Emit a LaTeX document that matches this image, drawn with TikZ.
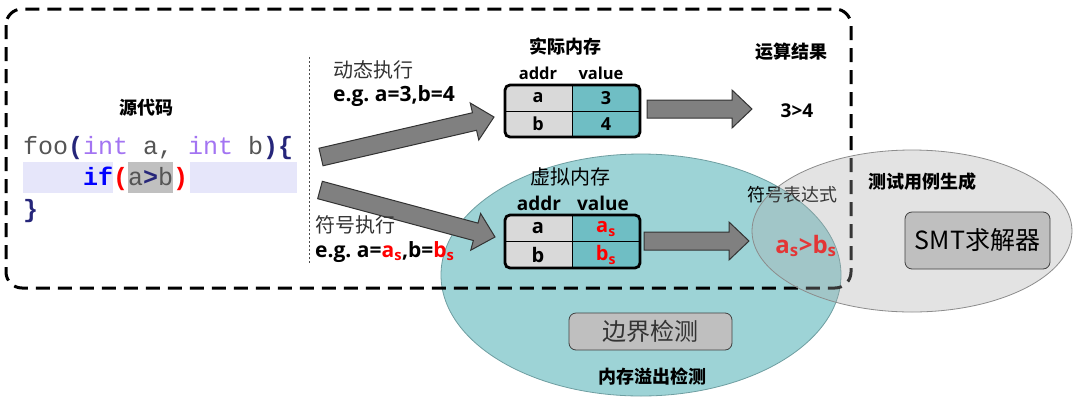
\documentclass[tikz,border=0pt]{standalone}
\usepackage{fontspec}
\setmainfont{Open Sans}
\setmonofont{Liberation Mono}
\newfontfamily\cjk{Noto Sans CJK SC}
\usetikzlibrary{calc}
\frenchspacing
\definecolor{tealfill}{HTML}{9DD3D6}
\definecolor{tealedge}{HTML}{6E9EA1}
\definecolor{cellteal}{HTML}{6FBEC4}
\definecolor{cellgray}{HTML}{D9D9D9}
\definecolor{boxgray}{HTML}{BFBFBF}
\definecolor{arrgray}{HTML}{808080}
\definecolor{codegray}{HTML}{555555}
\definecolor{navy}{HTML}{26267A}
\definecolor{purp}{HTML}{A374F2}
\definecolor{lav}{HTML}{E6E6FA}
\definecolor{hlgray}{HTML}{C0C0C0}
\definecolor{txtdark}{HTML}{333333}
\newcommand\blockarr[2]{%
  \coordinate (hb) at ($(#2)!20pt!(#1)$);
  \draw[blockarrow] ($(#1)!9pt!90:(#2)$) -- ($(hb)!9pt!90:(#2)$) -- ($(hb)!19pt!90:(#2)$) -- (#2)
     -- ($(hb)!19pt!-90:(#2)$) -- ($(hb)!9pt!-90:(#2)$) -- ($(#1)!9pt!-90:(#2)$) -- cycle;}
\newcommand\fsz[1]{\fontsize{#1}{#1}\selectfont}
\begin{document}
\begin{tikzpicture}[x=1pt,y=-1pt,
  blockarrow/.style={fill=arrgray,draw=black!80,line width=1pt,line join=miter},
  cjkb/.style={font=\cjk\bfseries\fsz{18},text=black,inner sep=0pt},
  cjkr/.style={font=\cjk\fsz{20},text=txtdark,inner sep=0pt},
  latb/.style={font=\bfseries\fsz{21},text=black,inner sep=0pt},
  hdr/.style={font=\bfseries\fsz{16.5},text=black,inner sep=0pt},
  cell/.style={font=\bfseries\fsz{18},text=black,inner sep=0pt},
  code/.style={font=\ttfamily\fsz{25},inner sep=0pt,anchor=base west},
  graybox/.style={draw=black!75,fill=boxgray,rounded corners=7pt,line width=0.8pt,inner sep=0pt}
]
\useasboundingbox (0,0) rectangle (1080,408);
\fill[white] (0,0) rectangle (1080,408);

% ---- source code ----
\fill[lav] (23,162) rectangle (113,193);
\fill[lav] (190,162) rectangle (297,193);
\fill[hlgray] (128,162) rectangle (173,193);
\node[cjkb] (src) at (146,108) {源代码};
\node[code] (l1) at (23,154) {{\color{codegray}foo}{\color{navy}\bfseries(}{\color{purp}int}{\color{codegray}\ a,\ }{\color{purp}int}{\color{codegray}\ b}{\color{navy}\bfseries)\{}};
\node[code] (l2) at (83,185) {{\color{blue}\bfseries if}{\color{red}\bfseries(}{\color{codegray}a}{\color{navy}\bfseries>}{\color{codegray}b}{\color{red}\bfseries)}};
\node[code] (l3) at (23,217) {{\color{navy}\bfseries\}}};

% ---- teal ellipse (memory overflow detection) ----
\draw[fill=tealfill,draw=tealedge,line width=0.8pt] (641,275) ellipse [x radius=200pt, y radius=121pt];

% ---- dashed frame ----
\draw[line width=3pt,dash pattern=on 14pt off 8pt,rounded corners=16pt] (6,9) rectangle (851,288);

% ---- dotted separator ----
\coordinate (dtop) at (309,57);
\coordinate (dbot) at (309,263);
\draw[black!70,line width=1pt,dash pattern=on 2pt off 2pt] (dtop) -- (dbot);

% ---- block arrows ----
\coordinate (p1s) at (321,157); \coordinate (p1e) at (494,117);
\coordinate (p2s) at (320,190); \coordinate (p2e) at (495,237);
\coordinate (p3s) at (647,109); \coordinate (p3e) at (752,109);
\coordinate (p4s) at (644,241); \coordinate (p4e) at (749,241);
\blockarr{p1s}{p1e}
\blockarr{p2s}{p2e}
\blockarr{p3s}{p3e}
\blockarr{p4s}{p4e}

% ---- execution labels ----
\node[cjkr,anchor=west] (dyn) at (333,70) {动态执行};
\node[latb,anchor=west] (dyneg) at (333,96) {e.g. a=3,b=4};
\node[cjkr,anchor=west] (sym) at (315,225) {符号执行};
\node[latb,anchor=west] (symeg) at (315,252) {e.g. a={\color{red}a\textsubscript{s}},b={\color{red}b\textsubscript{s}}};

% ---- real memory table ----
\node[cjkb] (realmem) at (565,47) {实际内存};
\node[hdr] (h1a) at (538,73) {addr};
\node[hdr] (h1v) at (601,73) {value};
\begin{scope}
  \clip[rounded corners=5pt] (505,85) rectangle (640,137);
  \fill[cellgray] (505,85) rectangle (572,137);
  \fill[cellteal] (572,85) rectangle (640,137);
\end{scope}
\draw[line width=0.9pt] (505,111) -- (640,111) (572,85) -- (572,137);
\draw[line width=2.8pt,rounded corners=5pt] (505,85) rectangle (640,137);
\node[cell] (t1a) at (538,98) {a};
\node[cell] (t1av) at (606,98) {3};
\node[cell] (t1b) at (538,124) {b};
\node[cell] (t1bv) at (606,124) {4};

% ---- virtual memory table ----
\node[cjkr,text=black] (virtmem) at (570,177) {虚拟内存};
\node[hdr,font=\bfseries\fsz{19}] (h2a) at (539,203) {addr};
\node[hdr,font=\bfseries\fsz{19}] (h2v) at (603,203) {value};
\begin{scope}
  \clip[rounded corners=5pt] (505,215) rectangle (640,268);
  \fill[cellgray] (505,215) rectangle (572,268);
  \fill[cellteal] (572,215) rectangle (640,268);
\end{scope}
\draw[line width=0.9pt] (505,241.5) -- (640,241.5) (572,215) -- (572,268);
\draw[line width=2.8pt,rounded corners=5pt] (505,215) rectangle (640,268);
\node[cell,font=\bfseries\fsz{20}] (t2a) at (538,228) {a};
\node[cell,font=\bfseries\fsz{20},text=red] (t2av) at (606,229) {a\textsubscript{s}};
\node[cell,font=\bfseries\fsz{20}] (t2b) at (538,255) {b};
\node[cell,font=\bfseries\fsz{20},text=red] (t2bv) at (606,255) {b\textsubscript{s}};

% ---- results ----
\node[cjkb] (res) at (791,52) {运算结果};
\node[cell,font=\bfseries\fsz{19}] (r34) at (797,111) {3>4};
\node[cjkb,font=\cjk\fsz{18}] (symexp) at (792,195) {符号表达式};
\node[cell,font=\bfseries\fsz{24},text=red] (asbs) at (806,246) {a\textsubscript{s}>b\textsubscript{s}};

% ---- gray ellipse (test case generation) ----
\draw[fill=black!33,fill opacity=0.32,draw=black!45,line width=0.8pt] (912,231) ellipse [x radius=160pt, y radius=81pt];
\node[cjkb] (tcg) at (922,182) {测试用例生成};
\node[graybox,minimum width=145pt,minimum height=57pt,font=\cjk\fsz{25}] (smt) at (977.5,240.5) {SMT求解器};

% ---- boundary check ----
\node[graybox,minimum width=163pt,minimum height=37pt,font=\cjk\fsz{24},text=txtdark] (bnd) at (650.5,331.5) {边界检测};
\node[cjkb] (mod) at (652,377) {内存溢出检测};
\end{tikzpicture}
\end{document}
